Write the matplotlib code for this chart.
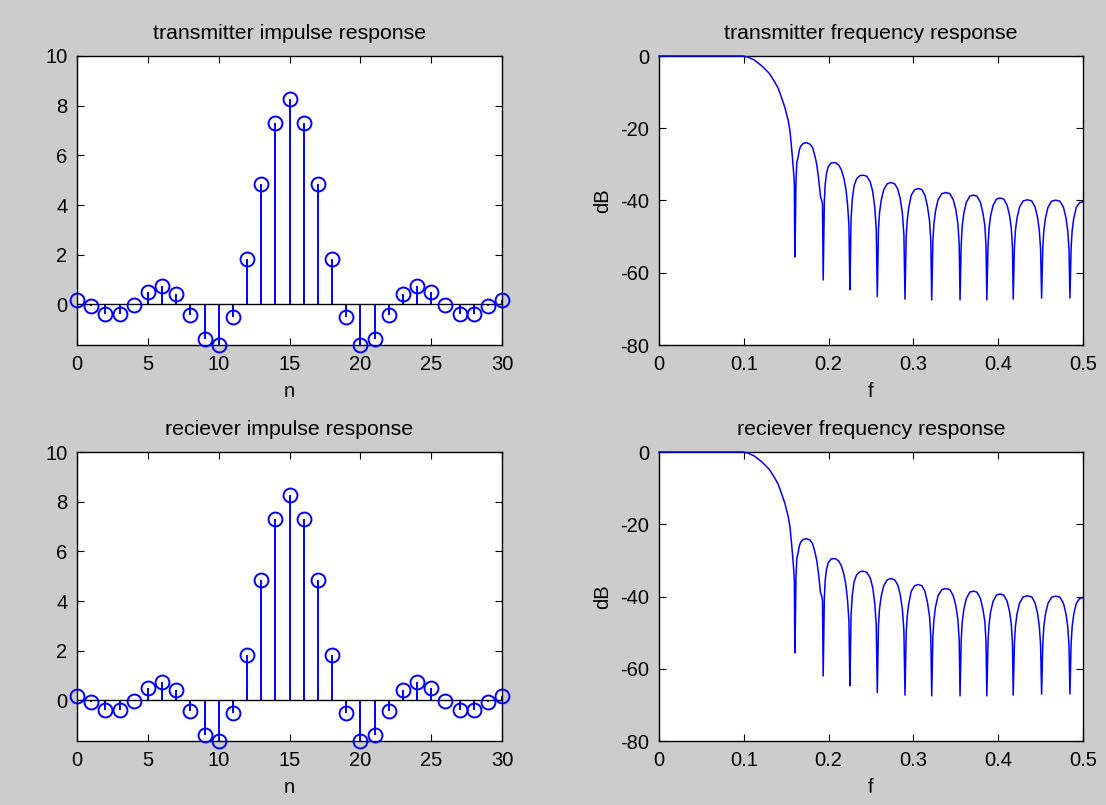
import matplotlib
matplotlib.use("Agg")
import matplotlib.pyplot as plt

plt.rcParams['font.family'] = ['Liberation Sans', 'DejaVu Sans']
plt.rcParams['axes.unicode_minus'] = False

# ---- data ----
n = list(range(31))
tx_impulse = [0.17, -0.07, -0.40, -0.40, -0.03, 0.51, 0.76, 0.44, -0.44, -1.38,
              -1.63, -0.51, 1.83, 4.84, 7.32, 8.25, 7.32, 4.84, 1.83, -0.51,
              -1.63, -1.38, -0.44, 0.44, 0.76, 0.51, -0.03, -0.40, -0.40, -0.07, 0.17]
rx_impulse = list(tx_impulse)

tx_freq_f = [
    0.000, 0.050, 0.099, 0.105, 0.113, 0.122, 0.130, 0.136, 0.1405, 0.1445, 0.1484,
    0.1523, 0.1543, 0.1560, 0.1575, 0.1590, 0.1596,
    0.1602, 0.1608, 0.1615, 0.1625, 0.1640, 0.1655, 0.1670, 0.1700, 0.1740, 0.1780,
    0.1810, 0.1840, 0.1860, 0.1880, 0.1905, 0.1920, 0.1928,
    0.1936, 0.1942, 0.1950, 0.1960, 0.1975, 0.1995, 0.2030, 0.2080, 0.2120, 0.2150,
    0.2180, 0.2205, 0.2225, 0.2240,
    0.2251, 0.2257, 0.2265, 0.2280, 0.2300, 0.2330, 0.2370, 0.2412, 0.2450, 0.2490,
    0.2520, 0.2545, 0.2562,
    0.2574, 0.2580, 0.2588, 0.2600, 0.2620, 0.2650, 0.2690, 0.2735, 0.2780, 0.2815,
    0.2845, 0.2870, 0.2888,
    0.2901, 0.2907, 0.2915, 0.2927, 0.2945, 0.2975, 0.3015, 0.3058, 0.3100, 0.3135,
    0.3165, 0.3190, 0.3205,
    0.3216, 0.3222, 0.3230, 0.3242, 0.3260, 0.3290, 0.3335, 0.3383, 0.3430, 0.3470,
    0.3500, 0.3525, 0.3540,
    0.3550, 0.3556, 0.3564, 0.3576, 0.3595, 0.3625, 0.3665, 0.3707, 0.3750, 0.3790,
    0.3820, 0.3843, 0.3856,
    0.3866, 0.3872, 0.3880, 0.3892, 0.3910, 0.3940, 0.3980, 0.4022, 0.4065, 0.4105,
    0.4135, 0.4155, 0.4168,
    0.4177, 0.4183, 0.4191, 0.4203, 0.4222, 0.4252, 0.4295, 0.4345, 0.4395, 0.4435,
    0.4465, 0.4485, 0.4500,
    0.4512, 0.4518, 0.4526, 0.4538, 0.4557, 0.4587, 0.4630, 0.4679, 0.4728, 0.4770,
    0.4800, 0.4820, 0.4835,
    0.4846, 0.4852, 0.4860, 0.4872, 0.4891, 0.4921, 0.4960, 0.5000,
]
tx_freq_db = [
    0.0, 0.0, 0.0, -0.3, -1.2, -2.9, -4.8, -7.0, -8.9, -11.5, -14.2,
    -17.8, -20.5, -24.5, -28.5, -33.0, -35.5,
    -55.6, -48.0, -35.0, -29.5, -28.0, -26.0, -25.0, -24.2, -24.0, -24.4,
    -25.3, -27.8, -30.0, -33.5, -39.0, -40.0, -41.0,
    -62.0, -53.0, -40.0, -35.5, -32.5, -30.7, -29.6, -29.5, -30.2, -31.5,
    -33.8, -37.0, -41.5, -47.0,
    -64.7, -57.0, -45.0, -39.5, -36.0, -34.0, -33.1, -33.0, -33.3, -34.8,
    -37.5, -42.0, -48.0,
    -66.6, -59.0, -48.0, -43.5, -40.0, -37.0, -35.4, -35.0, -35.4, -36.8,
    -39.5, -43.5, -49.5,
    -67.3, -60.0, -50.0, -45.5, -42.0, -38.5, -37.0, -36.7, -37.0, -38.5,
    -41.5, -45.5, -51.0,
    -67.5, -60.5, -51.0, -46.5, -43.0, -39.8, -38.1, -37.8, -38.1, -39.8,
    -42.5, -46.5, -52.0,
    -67.5, -61.0, -52.0, -47.0, -43.5, -40.5, -38.8, -38.5, -38.8, -40.5,
    -43.5, -47.0, -52.5,
    -67.5, -61.0, -52.5, -47.8, -44.3, -41.3, -39.6, -39.3, -39.6, -41.3,
    -44.3, -47.8, -53.0,
    -67.3, -61.0, -53.0, -48.3, -44.8, -41.8, -40.1, -39.8, -40.1, -41.8,
    -44.8, -48.3, -53.5,
    -67.0, -61.0, -53.0, -48.4, -44.9, -41.9, -40.2, -39.9, -40.2, -41.9,
    -44.9, -48.4, -53.5,
    -67.0, -61.0, -53.0, -48.4, -44.9, -41.9, -40.6, -40.3,
]
rx_freq_f = list(tx_freq_f)
rx_freq_db = list(tx_freq_db)

titles = ["transmitter impulse response", "transmitter frequency response",
          "reciever impulse response", "reciever frequency response"]
n_ticks = [0, 5, 10, 15, 20, 25, 30]
imp_yticks = [0, 2, 4, 6, 8, 10]
f_ticks = [0, 0.1, 0.2, 0.3, 0.4, 0.5]
f_ticklabels = ["0", "0.1", "0.2", "0.3", "0.4", "0.5"]
db_ticks = [-80, -60, -40, -20, 0]

# ---- figure ----
W, H = 1106, 805
fig = plt.figure(figsize=(W / 100, H / 100), dpi=100, facecolor='#cccccc')

FS = 14.5
TFS = 15.3
BLUE = '#0000ff'


def px_axes(x0, y0, x1, y1):
    return fig.add_axes([x0 / W, 1 - y1 / H, (x1 - x0) / W, (y1 - y0) / H])


def style(ax):
    ax.set_facecolor('white')
    ax.tick_params(direction='in', length=5, width=0.8, top=True, right=True,
                   labelsize=FS, pad=7, colors='black')
    for s in ax.spines.values():
        s.set_linewidth(1.0)
        s.set_color('black')


def impulse(ax, vals, title):
    style(ax)
    ml, sl, bl = ax.stem(n, vals, linefmt='-', markerfmt='o', basefmt='-')
    plt.setp(sl, color=BLUE, linewidth=1.4)
    plt.setp(ml, markerfacecolor='none', markeredgecolor=BLUE, markersize=10,
             markeredgewidth=1.4, clip_on=False, zorder=3)
    plt.setp(bl, color='black', linewidth=1.0)
    ax.set_xlim(0, 30)
    ax.set_ylim(min(vals), 10)
    ax.set_xticks(n_ticks)
    ax.set_yticks(imp_yticks)
    ax.set_title(title, fontsize=TFS, pad=12)
    ax.set_xlabel('n', fontsize=FS, labelpad=6)


def freq(ax, f, db, title):
    style(ax)
    ax.plot(f, db, color=BLUE, linewidth=1.1, clip_on=False, zorder=3)
    ax.set_xlim(0, 0.5)
    ax.set_ylim(-80, 0)
    ax.set_xticks(f_ticks)
    ax.set_xticklabels(f_ticklabels)
    ax.set_yticks(db_ticks)
    ax.set_title(title, fontsize=TFS, pad=12)
    ax.set_xlabel('f', fontsize=FS, labelpad=6)
    ax.set_ylabel('dB', fontsize=FS, labelpad=6)


ax1 = px_axes(77, 56, 502, 345)
ax2 = px_axes(659, 56, 1083, 345)
ax3 = px_axes(77, 452, 502, 741)
ax4 = px_axes(659, 452, 1083, 741)

impulse(ax1, tx_impulse, titles[0])
freq(ax2, tx_freq_f, tx_freq_db, titles[1])
impulse(ax3, rx_impulse, titles[2])
freq(ax4, rx_freq_f, rx_freq_db, titles[3])

fig.savefig('out.png', dpi=100, facecolor=fig.get_facecolor())
